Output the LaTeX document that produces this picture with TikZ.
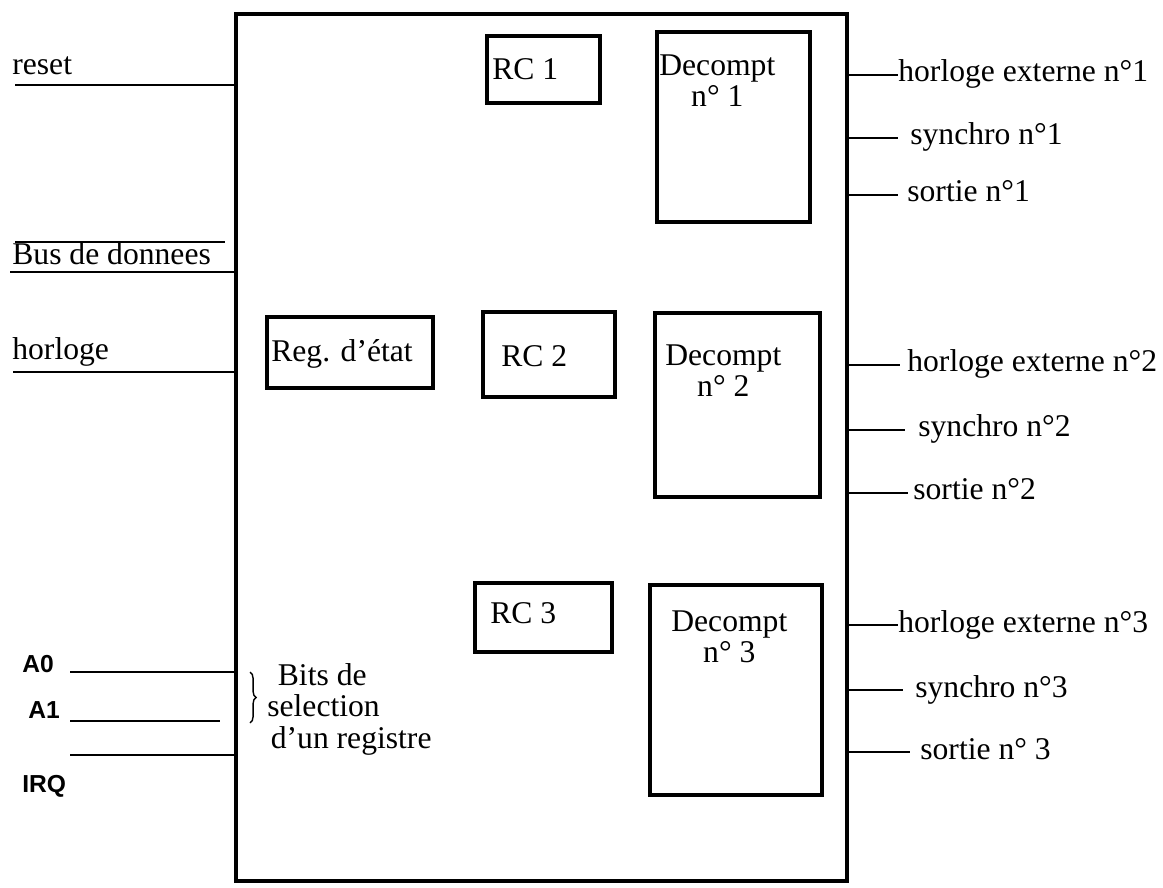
\documentclass[tikz,border=0pt]{standalone}
\usepackage{fontspec}
\setmainfont{Liberation Serif}
\newfontfamily\pinfont{Liberation Sans}
\usetikzlibrary{calc,fit,decorations.pathreplacing}
\tikzset{
  chipbox/.style={draw,line width=2.6pt,inner sep=0pt},
  blk/.style={draw,line width=2.2pt,inner sep=0pt},
  sig/.style={line width=1pt},
  txt/.style={font=\fontsize{18}{18}\selectfont,inner sep=0pt},
  boxtxt/.style={font=\fontsize{18}{18}\selectfont,inner sep=0pt,align=center,anchor=north west},
  pin/.style={font=\pinfont\bfseries\fontsize{14}{14}\selectfont,inner sep=0pt,anchor=base west},
  brace/.style={decorate,decoration={brace,amplitude=3.5pt},line width=.8pt}}

\begin{document}
\begin{tikzpicture}[x=0.02cm,y=-0.02cm]
\useasboundingbox (0,0) rectangle (1163,888);

% boitier
\node[chipbox,fit={(236,14)(847,881)}] (chip) {};

% registres et decompteurs
\node[blk,fit={(487,36)(600,103)}] (rc1) {};\node[txt,anchor=base west] (rc1t) at (492,80) {RC 1};
\node[blk,fit={(483,312)(615,397)}] (rc2) {};\node[txt,anchor=base west] (rc2t) at (501,367) {RC 2};
\node[blk,fit={(475,583)(612,652)}] (rc3) {};\node[txt,anchor=base west] (rc3t) at (490,623) {RC 3};
\node[blk,fit={(267,317)(433,388)}] (reg) {};\node[txt,anchor=base west] (regt) at (271,362) {Reg. d'état};
\node[blk,fit={(657,32)(810,222)}] (dc1) {};\node[boxtxt] (dc1t) at (659,54) {Decompt\\n° 1};
\node[blk,fit={(655,313)(820,497)}] (dc2) {};\node[boxtxt] (dc2t) at (665,344) {Decompt\\n° 2};
\node[blk,fit={(650,585)(822,795)}] (dc3) {};\node[boxtxt] (dc3t) at (671,610) {Decompt\\n° 3};

% entrees
\coordinate (rst) at (15,85);\draw[sig] (rst) -- (rst -| chip.west);
\node[txt,anchor=base west] (reset) at (12,75) {reset};
\coordinate (busA) at (15,242);\draw[sig] (busA) -- ($(busA -| chip.west)+(-9,0)$);
\coordinate (busB) at (10,272);\draw[sig] (busB) -- (busB -| chip.west);
\node[txt,anchor=base west] (bus) at (12,265) {Bus de donnees};
\coordinate (hor) at (13,372);\draw[sig] (hor) -- (hor -| chip.west);
\node[txt,anchor=base west] (horl) at (12,360) {horloge};

\coordinate (a0) at (70,672);\draw[sig] (a0) -- (a0 -| chip.west);
\node[pin] (a0t) at (22,672) {A0};
\coordinate (a1) at (70,721);\draw[sig] (a1) -- ($(a1 -| chip.west)+(-14,0)$);
\node[pin] (a1t) at (28,718) {A1};
\coordinate (irq) at (70,755);\draw[sig] (irq) -- (irq -| chip.west);
\node[pin] (irqt) at (22,792) {IRQ};

\draw[brace] (250,672) -- (250,723);
\node[txt,align=left,anchor=north west] (bits) at (267,663) {\hspace{6pt}Bits de\\selection\\\hspace{2pt}d'un registre};

% sorties
\foreach \nm/\y/\xe/\xt/\lab in {he1/75/898/898/horloge externe n°1,sy1/138/898/910/synchro n°1,so1/195/898/907/sortie n°1,
  he2/365/900/907/horloge externe n°2,sy2/430/905/918/synchro n°2,so2/493/908/913/sortie n°2,
  he3/625/898/898/horloge externe n°3,sy3/690/903/915/synchro n°3,so3/752/910/920/sortie n° 3}{
  \coordinate (\nm) at (\xe,\y);
  \draw[sig] (chip.east |- \nm) -- (\nm);
  \node[txt,anchor=base west] (\nm t) at (\xt,\y+7) {\lab};
}
\end{tikzpicture}
\end{document}
